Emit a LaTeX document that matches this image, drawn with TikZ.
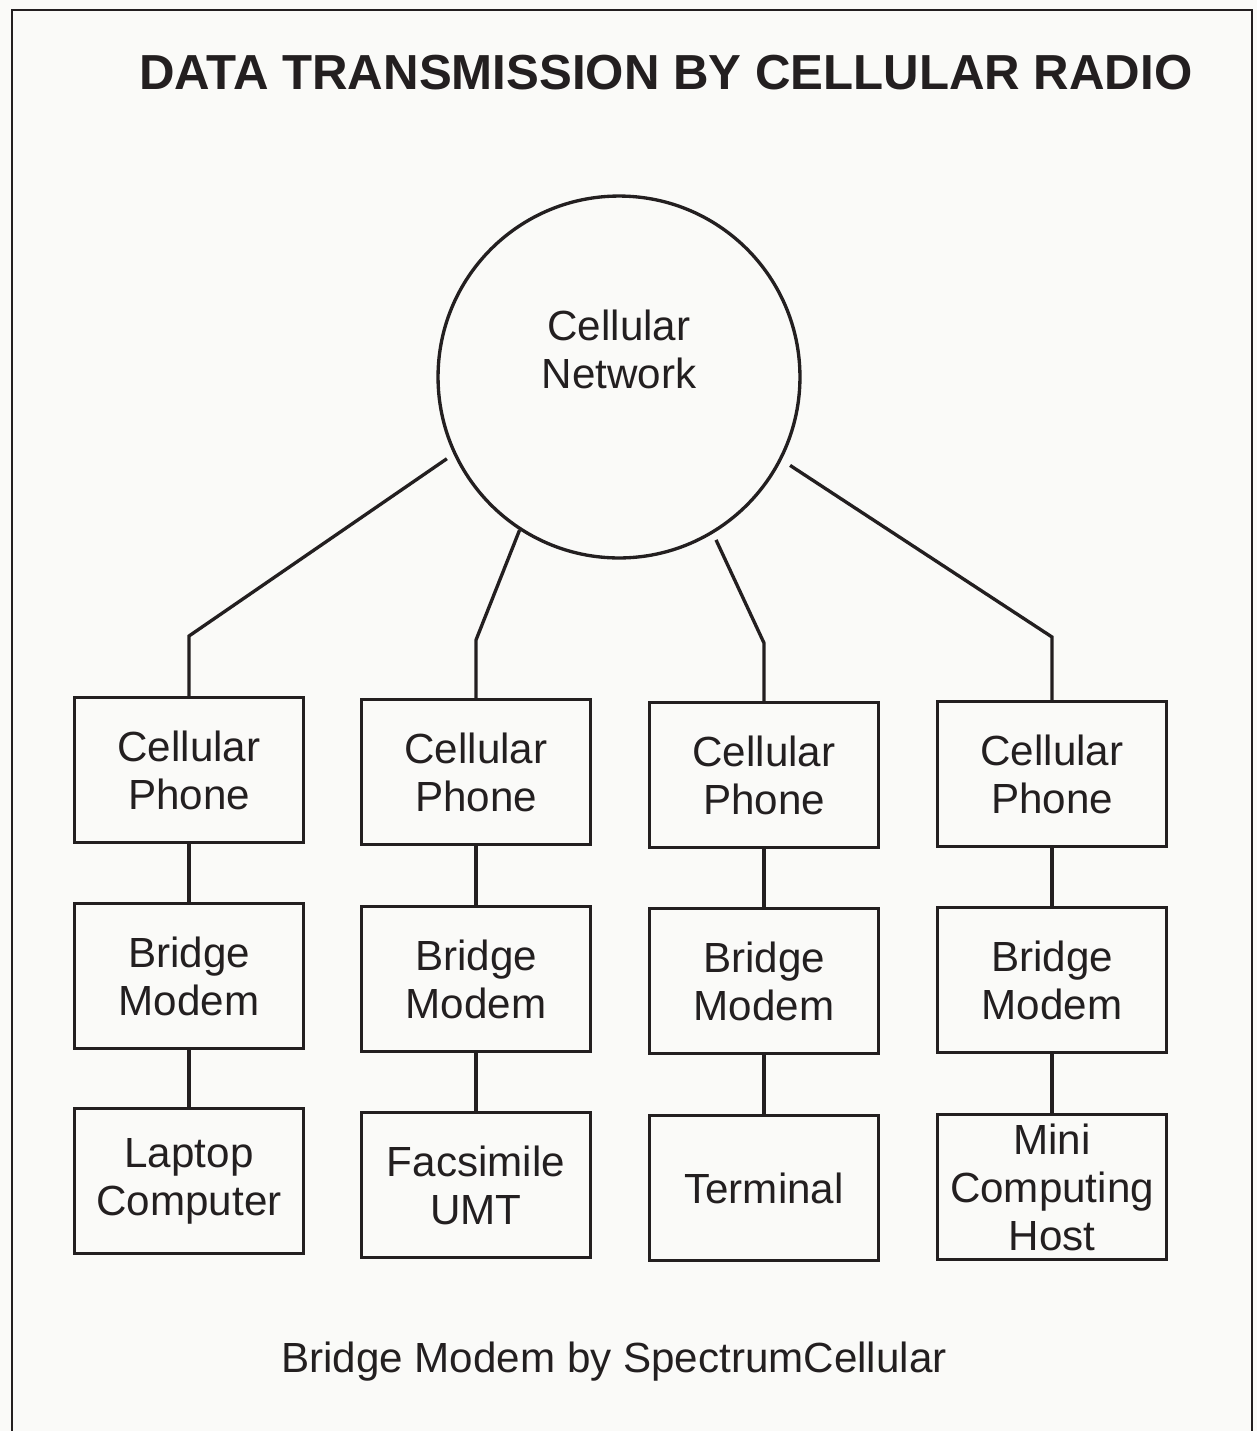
\documentclass[tikz,border=0pt]{standalone}
\usepackage{fontspec}
\setmainfont{Liberation Sans}
\usepackage{tikz}

\definecolor{paper}{RGB}{250,250,248}
\definecolor{ink}{RGB}{35,31,32}

\tikzset{
  unit/.style={draw=ink, line width=1.9pt, minimum width=4.58cm, minimum height=2.9cm,
    inner ysep=0pt, align=center, text=ink, font=\fontsize{24}{27.3}\selectfont},
  net/.style={draw=ink, line width=1.9pt, circle, minimum size=7.24cm},
  caption/.style={align=center, text=ink, font=\fontsize{24}{27.3}\selectfont},
  link/.style={draw=ink, line width=1.9pt}
}

\begin{document}
\begin{tikzpicture}[x=0.02cm, y=-0.02cm]
          \fill [paper] (0, 0) rectangle (1257, 1431);
          \useasboundingbox (0, 0) rectangle (1257, 1431);

          % Frame
          \draw [ink, line width=1pt] (12, 1431) -- (12, 10) -- (1252, 10) -- (1252, 1431);

          \node [text=ink, font=\bfseries\fontsize{28}{32}\selectfont] (title) at (666, 73)
            {DATA TRANSMISSION BY CELLULAR RADIO};

          \node [net] (cell) at (619, 377) {};
          \node [caption] (cellname) at (619, 349) {Cellular\\Network};

          % Phones
          \node [unit] (phoneA) at (189, 770) {Cellular\\Phone};
          \node [unit] (phoneB) at (476, 772) {Cellular\\Phone};
          \node [unit] (phoneC) at (764, 775) {Cellular\\Phone};
          \node [unit] (phoneD) at (1052, 774) {Cellular\\Phone};

          % Modems
          \node [unit] (modemA) at (189, 976) {Bridge\\Modem};
          \node [unit] (modemB) at (476, 979) {Bridge\\Modem};
          \node [unit] (modemC) at (764, 981) {Bridge\\Modem};
          \node [unit] (modemD) at (1052, 980) {Bridge\\Modem};

          % Hosts
          \node [unit] (hostA) at (189, 1181) {Laptop\\Computer};
          \node [unit] (hostB) at (476, 1185) {Facsimile\\UMT};
          \node [unit] (hostC) at (764, 1188) {Terminal};
          \node [unit] (hostD) at (1052, 1187) {Mini\\Computing\\Host};

          \node [caption] (credit) at (614, 1362) {Bridge Modem by SpectrumCellular};

          \coordinate (bendA) at (189, 636);
          \coordinate (bendB) at (476, 640);
          \coordinate (bendC) at (764, 643);
          \coordinate (bendD) at (1052, 637);

          \draw [link, shorten <=0.16cm] (cell.205) -- (bendA) -- (phoneA.north);
          \draw [link] (cell.237.6) -- (bendB) -- (phoneB.north);
          \draw [link, shorten <=0.14cm] (cell.301) -- (bendC) -- (phoneC.north);
          \draw [link, shorten <=0.2cm] (cell.333) -- (bendD) -- (phoneD.north);

          \foreach \c in {A, B, C, D} {
            \draw [link] (phone\c) -- (modem\c);
            \draw [link] (modem\c) -- (host\c);
          }
        \end{tikzpicture}
\end{document}
